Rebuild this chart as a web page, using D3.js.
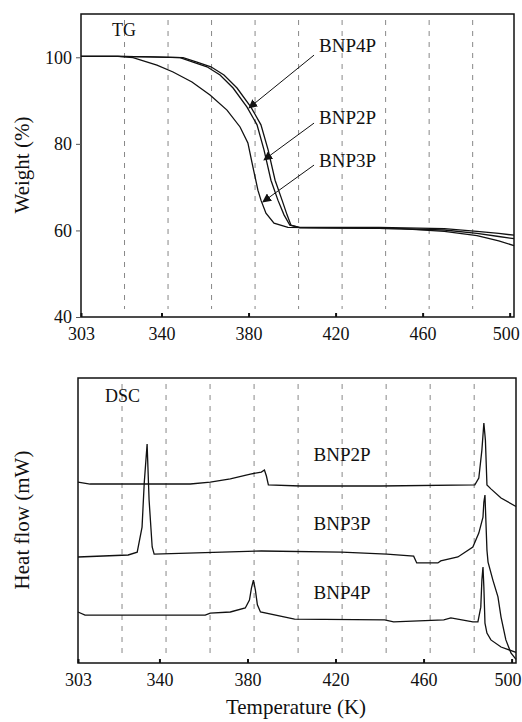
<!DOCTYPE html>
<html>
<head>
<meta charset="utf-8">
<script src="https://cdn.jsdelivr.net/npm/d3@7"></script>
<style>
  body { margin: 0; background: #fff; }
  svg text { font-family: "Liberation Serif", "Times New Roman", serif; fill: #111; }
</style>
</head>
<body>
<div id="vis"></div>
<script>
// Temperature axis (K) shared by both panels
var tickT = [303, 340, 380, 420, 460, 500];
var gridT = [323, 343, 363, 383, 403, 423, 443, 463, 483];
var tgTicks = [40, 60, 80, 100];

// TG curves: [temperature K, weight %]
var tgBNP4P = [[303, 100.2], [320, 100.2], [335, 100.1], [348.5, 99.9], [354.5, 98.9], [360.9, 97.8], [366.9, 95.9],
    [372.9, 92.9], [379.3, 88.5], [383.9, 84.4], [387.1, 78.6], [390.3, 71.6], [393.5, 67], [396.3, 63.6],
    [399, 61.2], [403.6, 60.7], [440, 60.7], [470, 60.4], [485, 59.8], [495, 59.3], [502, 58.9]];
var tgBNP2P = [[303, 100.2], [320, 100.2], [335, 100.1], [349.9, 99.9], [356.3, 98.9], [362.7, 97.8], [368.7, 95.9],
    [374.7, 92.9], [381.1, 88.5], [385.7, 84.4], [389, 78.6], [392.2, 71.6], [395.4, 67], [397.7, 63.6],
    [399.5, 61.2], [403.6, 60.6], [440, 60.5], [470, 60.1], [485, 59.3], [495, 58.6], [502, 58.1]];
var tgBNP3P = [[303, 100.2], [320, 100.2], [326.9, 99.9], [337.9, 98.2], [345.3, 96.6], [354, 94.3], [362.3, 91.3],
    [370.1, 87.8], [376.1, 83.9], [379.7, 80.2], [382, 74.7], [384.3, 69.3], [385.7, 67], [388, 64],
    [391.7, 61.7], [398.1, 60.7], [420, 60.6], [450, 60.4], [470, 59.8], [485, 58.8], [495, 57.6], [502, 56.5]];

// DSC curves: [temperature K, heat flow (arbitrary offset units)]
var dscBNP2P = [[303, 6.35], [308.5, 6.28], [354, 6.28], [363.1, 6.35], [372.2, 6.46], [381.3, 6.63], [386.3, 6.7],
    [387.7, 6.77], [388.6, 6.56], [389.5, 6.25], [404.1, 6.21], [440.5, 6.21], [483.3, 6.25], [485.1, 6.49],
    [486.5, 7.47], [487.4, 8.42], [488.1, 7.82], [488.8, 6.25], [490.6, 6.11], [495.2, 5.79], [502, 5.49]];
var dscBNP3P = [[303, 3.72], [325.8, 3.79], [329.9, 3.89], [332.1, 4.77], [333.1, 6.32], [334.4, 7.68], [335.3, 5.72],
    [336.7, 4.07], [337.6, 3.82], [386.3, 3.93], [422.8, 3.89], [443.3, 3.82], [455.5, 3.75], [456.9, 3.51],
    [466.5, 3.51], [467.8, 3.58], [475.6, 3.72], [482.4, 4.07], [485.1, 4.56], [487, 5.12], [487.4, 5.65],
    [487.9, 5.89], [488.8, 3.96], [489.3, 3.54], [491.5, 2.91], [493.8, 2.32], [495.2, 1.61], [497.4, 0.81],
    [499.7, 0.35], [502, 0.13]];
var dscBNP4P = [[303, 1.79], [306.2, 1.68], [360.8, 1.68], [363.1, 1.75], [372.2, 1.79], [379, 1.93], [380.9, 2.21],
    [381.8, 2.63], [382.7, 2.91], [383.6, 2.56], [384.5, 2.04], [385.9, 1.79], [401.4, 1.54], [442.3, 1.51],
    [446.4, 1.44], [469.2, 1.51], [472.4, 1.58], [482.4, 1.44], [484.7, 1.44], [486, 1.96], [486.5, 2.91],
    [487, 3.37], [487.4, 2.67], [487.9, 1.4], [488.8, 1.05], [490.6, 0.81], [495.2, 0.56], [502, 0.37]];

// Labels: name, arrow tip [T, W], label anchor [T, W]
var tgNotes = [
    {name: "BNP4P", tip: [380.2, 88.3], from: [410.1, 100.5], text: [412.4, 101.2]},
    {name: "BNP2P", tip: [387.1, 76.3], from: [410.1, 84.8], text: [412.4, 84.6]},
    {name: "BNP3P", tip: [386.6, 66.6], from: [410.1, 75.1], text: [412.4, 74.7]}
];
var dscNotes = [
    {name: "BNP2P", at: [410, 7.1]},
    {name: "BNP3P", at: [410, 4.65]},
    {name: "BNP4P", at: [410, 2.25]}
];

var width = 522;
var height = 722;

var svg = d3.select("#vis").append("svg").attr("width", width).attr("height", height);

svg.append("defs").append("marker")
    .attr("id", "arrow")
    .attr("viewBox", "0 0 10 10")
    .attr("refX", 9).attr("refY", 5)
    .attr("markerWidth", 9).attr("markerHeight", 9)
    .attr("markerUnits", "userSpaceOnUse")
    .attr("orient", "auto")
    .append("path").attr("d", "M0,0 L10,5 L0,10 Z").attr("fill", "#111");

/************************************** Panel helper ***************************************/
function panel(box, yDomain) {
    var x = d3.scaleLinear().domain([303, 502]).range([box.left, box.right]);
    var y = d3.scaleLinear().domain(yDomain).range([box.bottom, box.top]);
    var g = svg.append("g");

    // dashed vertical grid lines
    g.selectAll(".grid").data(gridT).enter().append("line")
        .attr("x1", function(d) { return x(d); })
        .attr("x2", function(d) { return x(d); })
        .attr("y1", box.top + 6)
        .attr("y2", box.bottom - 8)
        .attr("stroke", "#888")
        .attr("stroke-width", 1)
        .attr("stroke-dasharray", "5,6");

    // frame
    g.append("rect")
        .attr("x", box.left).attr("y", box.top)
        .attr("width", box.right - box.left).attr("height", box.bottom - box.top)
        .attr("fill", "none").attr("stroke", "#111").attr("stroke-width", 1.5);

    // x axis with small inward ticks
    var xAxis = d3.axisBottom(x).tickValues(tickT).tickSizeInner(-4).tickSizeOuter(0).tickPadding(10);
    var ax = g.append("g").attr("transform", "translate(0," + box.bottom + ")").call(xAxis);
    ax.select(".domain").remove();
    ax.selectAll(".tick line").attr("stroke", "#111").attr("stroke-width", 2);
    ax.selectAll(".tick text").attr("font-size", 18).attr("dy", "0.72em");
    // keep the last label inside the page
    ax.selectAll(".tick text").filter(function(d) { return d === 500; }).attr("dx", -4);

    return {x: x, y: y, g: g};
}

var line = function(p) {
    return d3.line().x(function(d) { return p.x(d[0]); }).y(function(d) { return p.y(d[1]); });
};

/************************************** TG panel ***************************************/
var tg = panel({left: 81, right: 514, top: 14, bottom: 317}, [40, 110]);

var yAxis = d3.axisLeft(tg.y).tickValues(tgTicks).tickSizeInner(5).tickSizeOuter(0).tickPadding(4);
var ay = tg.g.append("g").attr("transform", "translate(81,0)").call(yAxis);
ay.select(".domain").remove();
ay.selectAll(".tick line").attr("stroke", "#555");
ay.selectAll(".tick text").attr("font-size", 18);

[tgBNP4P, tgBNP2P, tgBNP3P].forEach(function(s) {
    tg.g.append("path").datum(s).attr("d", line(tg))
        .attr("fill", "none").attr("stroke", "#111").attr("stroke-width", 1.3);
});

tgNotes.forEach(function(n) {
    tg.g.append("line")
        .attr("x1", tg.x(n.from[0])).attr("y1", tg.y(n.from[1]))
        .attr("x2", tg.x(n.tip[0])).attr("y2", tg.y(n.tip[1]))
        .attr("stroke", "#111").attr("stroke-width", 1)
        .attr("marker-end", "url(#arrow)");
    tg.g.append("text").attr("x", tg.x(n.text[0])).attr("y", tg.y(n.text[1]))
        .attr("font-size", 19).text(n.name);
});

tg.g.append("text").attr("x", 112).attr("y", 36).attr("font-size", 18).text("TG");

svg.append("text")
    .attr("transform", "translate(29,165) rotate(-90)")
    .attr("text-anchor", "middle").attr("font-size", 21)
    .text("Weight (%)");

/************************************** DSC panel ***************************************/
var dsc = panel({left: 78, right: 516, top: 378, bottom: 663}, [0, 10]);

[dscBNP2P, dscBNP3P, dscBNP4P].forEach(function(s) {
    dsc.g.append("path").datum(s).attr("d", line(dsc))
        .attr("fill", "none").attr("stroke", "#111").attr("stroke-width", 1.3);
});

dscNotes.forEach(function(n) {
    dsc.g.append("text").attr("x", dsc.x(n.at[0])).attr("y", dsc.y(n.at[1]))
        .attr("font-size", 19).text(n.name);
});

dsc.g.append("text").attr("x", 105).attr("y", 402).attr("font-size", 18).text("DSC");

svg.append("text")
    .attr("transform", "translate(29,520) rotate(-90)")
    .attr("text-anchor", "middle").attr("font-size", 21)
    .text("Heat flow (mW)");

svg.append("text")
    .attr("x", 296).attr("y", 714)
    .attr("text-anchor", "middle").attr("font-size", 21)
    .text("Temperature (K)");
</script>
</body>
</html>
